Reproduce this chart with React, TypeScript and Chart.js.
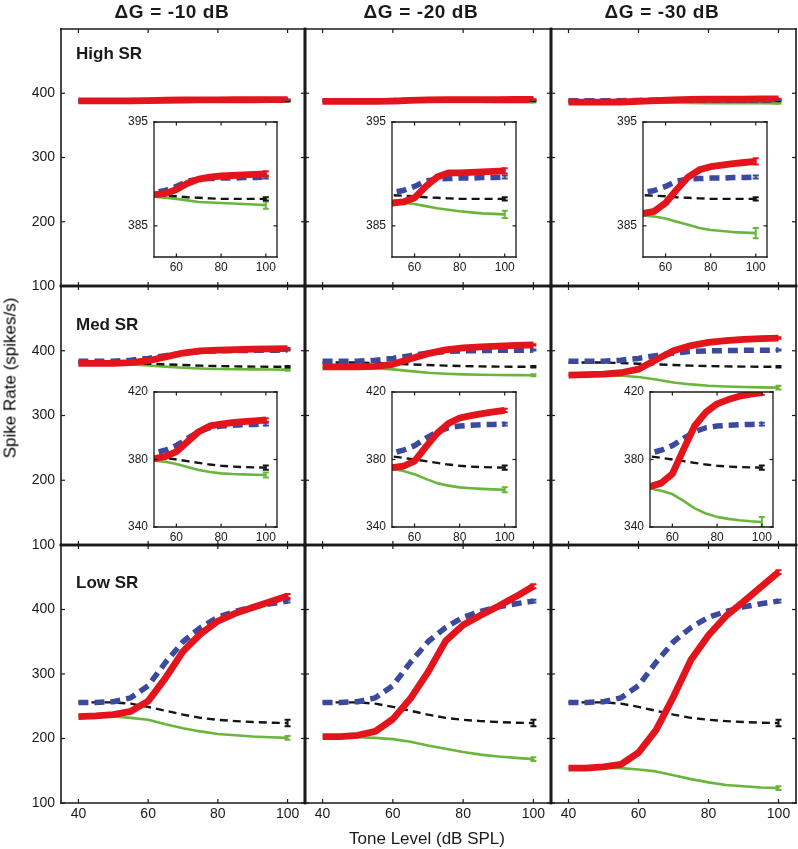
import React, { useEffect, useRef } from 'react';
import { Chart, registerables } from 'chart.js';

Chart.register(...registerables);

// ---------------- data ----------------
const LEVELS = [40, 45, 50, 55, 60, 65, 70, 75, 80, 85, 90, 95, 100];
const GAIN_TITLES = ['ΔG = -10 dB', 'ΔG = -20 dB', 'ΔG = -30 dB'];
const SR_NAMES = ['High SR', 'Med SR', 'Low SR'];
const X_TITLE = 'Tone Level (dB SPL)';
const Y_TITLE = 'Spike Rate (spikes/s)';
const MAIN_X_TICKS = [40, 60, 80, 100];
const MAIN_Y_TICKS = [100, 200, 300, 400];
const INSET_X_TICKS = [60, 80, 100];
const HIGH_INSET_Y_TICKS = [385, 395];
const MED_INSET_Y_TICKS = [340, 380, 420];

// High SR
const HIGH_BLUE = [388.2, 388.2, 388.2, 388.4, 388.8, 389.3, 389.5, 389.55, 389.6, 389.6, 389.65, 389.65, 389.7];
const HIGH_BLACK = [388.0, 388.0, 387.95, 387.9, 387.85, 387.75, 387.7, 387.65, 387.6, 387.6, 387.6, 387.6, 387.6];
const HIGH_RED_10 = [388.0, 388.0, 388.0, 388.1, 388.5, 389.1, 389.5, 389.7, 389.8, 389.85, 389.9, 389.95, 390.0];
const HIGH_GREEN_10 = [387.9, 387.9, 387.8, 387.7, 387.6, 387.45, 387.3, 387.25, 387.2, 387.15, 387.1, 387.05, 387.0];
const HIGH_RED_20 = [387.2, 387.2, 387.2, 387.3, 387.7, 388.8, 389.7, 390.1, 390.1, 390.15, 390.2, 390.25, 390.3];
const HIGH_GREEN_20 = [387.3, 387.3, 387.3, 387.2, 387.1, 386.9, 386.7, 386.55, 386.4, 386.3, 386.2, 386.15, 386.1];
const HIGH_RED_30 = [386.2, 386.2, 386.2, 386.4, 387.2, 388.5, 389.7, 390.4, 390.7, 390.85, 391.0, 391.1, 391.2];
const HIGH_GREEN_30 = [386.0, 386.0, 386.0, 385.9, 385.7, 385.4, 385.1, 384.8, 384.6, 384.5, 384.4, 384.35, 384.3];

// Med SR
const MED_BLUE = [383.6, 383.6, 383.7, 385.5, 388.2, 392.5, 396.5, 398.8, 399.8, 400.3, 400.6, 400.8, 401.0];
const MED_BLACK = [381.8, 381.8, 381.8, 381.0, 380.0, 379.0, 378.0, 377.0, 376.3, 375.8, 375.5, 375.3, 375.2];
const MED_RED_10 = [380.5, 380.5, 380.5, 381.7, 384.6, 390.6, 396.5, 399.9, 401.0, 401.8, 402.4, 402.9, 403.4];
const MED_GREEN_10 = [379.5, 379.5, 379.3, 378.7, 377.3, 375.5, 373.8, 372.6, 371.8, 371.4, 371.2, 371.0, 370.8];
const MED_RED_20 = [375.2, 375.2, 375.2, 376.0, 379.0, 387.5, 395.5, 401.3, 404.6, 406.0, 407.2, 408.2, 409.1];
const MED_GREEN_20 = [375.0, 375.0, 374.5, 373.2, 371.3, 368.5, 366.0, 364.5, 363.5, 363.0, 362.6, 362.3, 362.1];
const MED_RED_30 = [362.5, 363.0, 364.0, 366.0, 371.5, 386.0, 400.0, 408.0, 413.0, 415.5, 417.5, 418.7, 419.6];
const MED_GREEN_30 = [363.0, 363.0, 362.8, 361.5, 359.5, 355.5, 351.0, 348.0, 346.0, 344.8, 344.0, 343.4, 343.0];

// Low SR
const LOW_BLUE = [256, 256, 257, 263, 282, 318, 350, 372, 388, 397, 404, 409, 413];
const LOW_BLACK = [256, 256, 256, 254, 249, 243, 237, 232, 229, 227, 225.5, 224.5, 224];
const LOW_RED_10 = [234, 235, 237, 242, 258, 294, 335, 362, 382, 394, 403, 412, 421];
const LOW_GREEN_10 = [235, 235, 234, 232, 229, 222, 216, 211, 207, 205, 203, 202, 201];
const LOW_RED_20 = [203, 203, 205, 211, 230, 262, 303, 351, 376, 391, 405, 420, 436];
const LOW_GREEN_20 = [203, 203, 202, 201, 199, 195, 189, 184, 179, 175, 172, 170, 168];
const LOW_RED_30 = [154, 154, 156, 160, 178, 213, 265, 322, 360, 390, 412, 435, 458];
const LOW_GREEN_30 = [155, 155, 155, 154, 152, 149, 143, 137, 132, 128, 126, 124, 123];

// error-bar half heights at 100 dB (red, blue, black, green)
const HIGH_ERR_10 = [0.25, 0.15, 0.15, 0.35];
const HIGH_ERR_20 = [0.25, 0.15, 0.15, 0.35];
const HIGH_ERR_30 = [0.3, 0.15, 0.15, 0.5];
const MED_ERR_10 = [1.0, 0.8, 1.2, 1.5];
const MED_ERR_20 = [1.0, 0.8, 1.2, 1.5];
const MED_ERR_30 = [1.2, 0.8, 1.2, 3.0];
const LOW_ERR_10 = [3, 2, 5, 3];
const LOW_ERR_20 = [3, 2, 5, 3];
const LOW_ERR_30 = [3, 2, 5, 3];

const ROWS_SERIES = [
  [
    [HIGH_RED_10, HIGH_BLUE, HIGH_BLACK, HIGH_GREEN_10],
    [HIGH_RED_20, HIGH_BLUE, HIGH_BLACK, HIGH_GREEN_20],
    [HIGH_RED_30, HIGH_BLUE, HIGH_BLACK, HIGH_GREEN_30],
  ],
  [
    [MED_RED_10, MED_BLUE, MED_BLACK, MED_GREEN_10],
    [MED_RED_20, MED_BLUE, MED_BLACK, MED_GREEN_20],
    [MED_RED_30, MED_BLUE, MED_BLACK, MED_GREEN_30],
  ],
  [
    [LOW_RED_10, LOW_BLUE, LOW_BLACK, LOW_GREEN_10],
    [LOW_RED_20, LOW_BLUE, LOW_BLACK, LOW_GREEN_20],
    [LOW_RED_30, LOW_BLUE, LOW_BLACK, LOW_GREEN_30],
  ],
];
const ROWS_ERR = [
  [HIGH_ERR_10, HIGH_ERR_20, HIGH_ERR_30],
  [MED_ERR_10, MED_ERR_20, MED_ERR_30],
  [LOW_ERR_10, LOW_ERR_20, LOW_ERR_30],
];

// ---------------- styles / layout ----------------
const FONT = '"Liberation Sans", Arial, Helvetica, sans-serif';
const INK = '#1a1a1a';
const SERIES_STYLE = [
  { color: '#e3141c', width: 6.8, dash: [] as number[] },
  { color: '#3b4a9e', width: 5.5, dash: [10, 6] },
  { color: '#141414', width: 2.4, dash: [8, 5] },
  { color: '#6ab63c', width: 2.6, dash: [] as number[] },
];

const COL_EDGES = [61, 305, 551, 796];
const ROW_EDGES = [29, 286, 545, 803];
const INSET_AREAS = [
  [
    [154, 122, 277, 257],
    [392, 122, 516, 257],
    [643, 122, 767, 257],
  ],
  [
    [154, 392, 277, 527],
    [392, 392, 516, 527],
    [650, 392, 773, 527],
  ],
];

type PanelSpec = {
  key: string;
  area: number[];
  pad: { l: number; t: number; r: number; b: number };
  xRange: number[];
  yRange: number[];
  xTicks: number[];
  yTicks: number[];
  showX: boolean;
  showY: boolean;
  series: number[][];
  errs: number[];
  inset: boolean;
  edges: number[];
  fontSize: number;
  tickLen: number;
  xPad: number;
  yPad: number;
};

const framePlugin = {
  id: 'frame',
  beforeDraw(chart: any, _a: any, opts: any) {
    if (!opts.background) return;
    const { ctx, chartArea: a } = chart;
    ctx.save();
    ctx.fillStyle = '#ffffff';
    ctx.fillRect(a.left, a.top, a.right - a.left, a.bottom - a.top);
    ctx.restore();
  },
  afterDatasetsDraw(chart: any) {
    const { ctx, chartArea: a } = chart;
    const xs = chart.scales.x;
    const ys = chart.scales.y;
    ctx.save();
    ctx.beginPath();
    ctx.rect(a.left, a.top, a.right - a.left, a.bottom - a.top);
    ctx.clip();
    const dsets = chart.data.datasets;
    for (let i = dsets.length - 1; i >= 0; i--) {
      const ds = dsets[i];
      const err = ds.errorBar;
      if (!err) continue;
      const last = ds.data[ds.data.length - 1];
      const px = xs.getPixelForValue(last.x);
      const y1 = ys.getPixelForValue(last.y - err);
      const y2 = ys.getPixelForValue(last.y + err);
      ctx.strokeStyle = ds.borderColor;
      ctx.lineWidth = 2;
      ctx.setLineDash([]);
      ctx.beginPath();
      ctx.moveTo(px, y1);
      ctx.lineTo(px, y2);
      ctx.moveTo(px - 3, y1);
      ctx.lineTo(px + 3, y1);
      ctx.moveTo(px - 3, y2);
      ctx.lineTo(px + 3, y2);
      ctx.stroke();
    }
    ctx.restore();
  },
  afterDraw(chart: any, _a: any, opts: any) {
    const { ctx, chartArea: a } = chart;
    const xs = chart.scales.x;
    const ys = chart.scales.y;
    const [el, et, er, eb] = opts.edges;
    const L = opts.tickLen;
    ctx.save();
    ctx.strokeStyle = INK;
    ctx.setLineDash([]);
    ctx.lineCap = 'square';
    const seg = (x1: number, y1: number, x2: number, y2: number, w: number) => {
      ctx.lineWidth = w;
      ctx.beginPath();
      ctx.moveTo(x1, y1);
      ctx.lineTo(x2, y2);
      ctx.stroke();
    };
    seg(a.left, a.top, a.left, a.bottom, el);
    seg(a.right, a.top, a.right, a.bottom, er);
    seg(a.left, a.top, a.right, a.top, et);
    seg(a.left, a.bottom, a.right, a.bottom, eb);
    ctx.lineCap = 'butt';
    for (const t of xs.ticks) {
      const px = xs.getPixelForValue(t.value);
      seg(px, a.bottom, px, a.bottom - L, 1.2);
      seg(px, a.top, px, a.top + L, 1.2);
    }
    for (const t of ys.ticks) {
      const py = ys.getPixelForValue(t.value);
      seg(a.left, py, a.left + L, py, 1.2);
      seg(a.right, py, a.right - L, py, 1.2);
    }
    ctx.restore();
  },
};

function buildConfig(s: PanelSpec): any {
  const datasets = s.series.map((vals, i) => ({
    label: 'series' + i,
    data: LEVELS.map((x, j) => ({ x, y: vals[j] })),
    borderColor: SERIES_STYLE[i].color,
    borderWidth: SERIES_STYLE[i].width,
    borderDash: SERIES_STYLE[i].dash,
    borderCapStyle: 'butt',
    borderJoinStyle: 'round',
    pointRadius: 0,
    pointHoverRadius: 0,
    tension: 0,
    fill: false,
    errorBar: s.errs[i],
    ...(s.inset ? { clip: 0 } : {}),
  }));
  const xTicks = s.xTicks;
  const yTicks = s.yTicks;
  return {
    type: 'line',
    data: { datasets },
    options: {
      animation: false,
      responsive: false,
      maintainAspectRatio: false,
      devicePixelRatio: 1,
      events: [],
      layout: { padding: { top: s.pad.t, right: s.pad.r, left: 0, bottom: 0 } },
      plugins: {
        legend: { display: false },
        tooltip: { enabled: false },
        title: { display: false },
        frame: { background: s.inset, edges: s.edges, tickLen: s.tickLen },
      },
      scales: {
        x: {
          type: 'linear',
          min: s.xRange[0],
          max: s.xRange[1],
          grid: { display: false, drawTicks: false },
          border: { display: false },
          ticks: {
            display: s.showX,
            padding: s.xPad,
            color: INK,
            font: { family: FONT, size: s.fontSize },
            maxRotation: 0,
            autoSkip: false,
          },
          afterBuildTicks: (sc: any) => {
            sc.ticks = xTicks.map((v) => ({ value: v }));
          },
          afterFit: (sc: any) => {
            sc.height = s.pad.b;
          },
        },
        y: {
          type: 'linear',
          min: s.yRange[0],
          max: s.yRange[1],
          grid: { display: false, drawTicks: false },
          border: { display: false },
          ticks: {
            display: s.showY,
            padding: s.yPad,
            color: INK,
            font: { family: FONT, size: s.fontSize },
            autoSkip: false,
          },
          afterBuildTicks: (sc: any) => {
            sc.ticks = yTicks.map((v) => ({ value: v }));
          },
          afterFit: (sc: any) => {
            sc.width = s.pad.l;
          },
        },
      },
    },
    plugins: [framePlugin],
  };
}

const MAIN_SPECS: PanelSpec[] = [];
const INSET_SPECS: PanelSpec[] = [];
for (let r = 0; r < 3; r++) {
  for (let c = 0; c < 3; c++) {
    MAIN_SPECS.push({
      key: `m${r}${c}`,
      area: [COL_EDGES[c], ROW_EDGES[r], COL_EDGES[c + 1], ROW_EDGES[r + 1]],
      pad: { l: c === 0 ? 60 : 20, t: 20, r: 20, b: r === 2 ? 40 : 20 },
      xRange: [35, 105],
      yRange: [100, 500],
      xTicks: MAIN_X_TICKS,
      yTicks: MAIN_Y_TICKS,
      showX: r === 2,
      showY: c === 0,
      series: ROWS_SERIES[r][c],
      errs: ROWS_ERR[r][c],
      inset: false,
      edges: [c === 0 ? 1.6 : 2.6, r === 0 ? 1.6 : 2.6, c === 2 ? 1.6 : 2.6, r === 2 ? 1.6 : 2.6],
      fontSize: 14,
      tickLen: 4,
      xPad: 3,
      yPad: 6,
    });
  }
}
for (let r = 0; r < 2; r++) {
  for (let c = 0; c < 3; c++) {
    INSET_SPECS.push({
      key: `i${r}${c}`,
      area: INSET_AREAS[r][c],
      pad: { l: 45, t: 16, r: 16, b: 28 },
      xRange: [50, 105],
      yRange: r === 0 ? [382, 395] : [340, 420],
      xTicks: INSET_X_TICKS,
      yTicks: r === 0 ? HIGH_INSET_Y_TICKS : MED_INSET_Y_TICKS,
      showX: true,
      showY: true,
      series: ROWS_SERIES[r][c],
      errs: ROWS_ERR[r][c],
      inset: true,
      edges: [1.3, 1.3, 1.3, 1.3],
      fontSize: 12,
      tickLen: 3.5,
      xPad: 3,
      yPad: 6,
    });
  }
}

function ChartPanel({ spec }: { spec: PanelSpec }) {
  const ref = useRef<HTMLCanvasElement | null>(null);
  useEffect(() => {
    if (!ref.current) return;
    const chart = new Chart(ref.current, buildConfig(spec));
    return () => chart.destroy();
  }, [spec]);
  const [L, T, R, B] = spec.area;
  const w = R - L + spec.pad.l + spec.pad.r;
  const h = B - T + spec.pad.t + spec.pad.b;
  return (
    <canvas
      ref={ref}
      width={w}
      height={h}
      style={{ position: 'absolute', left: L - spec.pad.l, top: T - spec.pad.t, width: w, height: h }}
    />
  );
}

const TITLE_CENTERS = [172, 421, 662];
const TITLE_BASELINE = 18.5;
const SR_LEFT = 76;
const SR_BASELINES = [59, 330, 588];

function Text({
  children,
  x,
  baseline,
  size,
  bold,
  center,
  spacing,
}: {
  children: React.ReactNode;
  x: number;
  baseline: number;
  size: number;
  bold?: boolean;
  center?: boolean;
  spacing?: number;
}) {
  return (
    <div
      style={{
        position: 'absolute',
        left: x,
        top: baseline - 0.8465 * size,
        fontFamily: FONT,
        fontSize: size,
        lineHeight: 1,
        fontWeight: bold ? 'bold' : 'normal',
        color: INK,
        whiteSpace: 'nowrap',
        letterSpacing: spacing ? spacing : 0,
        transform: center ? 'translateX(-50%)' : undefined,
      }}
    >
      {children}
    </div>
  );
}

export default function App() {
  return (
    <div
      style={{
        position: 'absolute',
        left: 0,
        top: 0,
        width: 798,
        height: 849,
        background: '#ffffff',
        overflow: 'hidden',
      }}
    >
      {MAIN_SPECS.map((s) => (
        <ChartPanel key={s.key} spec={s} />
      ))}
      {INSET_SPECS.map((s) => (
        <ChartPanel key={s.key} spec={s} />
      ))}
      {GAIN_TITLES.map((t, i) => (
        <Text key={t} x={TITLE_CENTERS[i]} baseline={TITLE_BASELINE} size={19} bold center spacing={0.6}>
          {t}
        </Text>
      ))}
      {SR_NAMES.map((t, i) => (
        <Text key={t} x={SR_LEFT} baseline={SR_BASELINES[i]} size={17} bold>
          {t}
        </Text>
      ))}
      <Text x={427} baseline={844.5} size={17} center>
        {X_TITLE}
      </Text>
      <div
        style={{
          position: 'absolute',
          left: 9.5,
          top: 378,
          fontFamily: FONT,
          fontSize: 17,
          lineHeight: 1,
          color: '#000000',
          whiteSpace: 'nowrap',
          transform: 'translate(-50%, -50%) rotate(-90deg)',
        }}
      >
        {Y_TITLE}
      </div>
    </div>
  );
}
